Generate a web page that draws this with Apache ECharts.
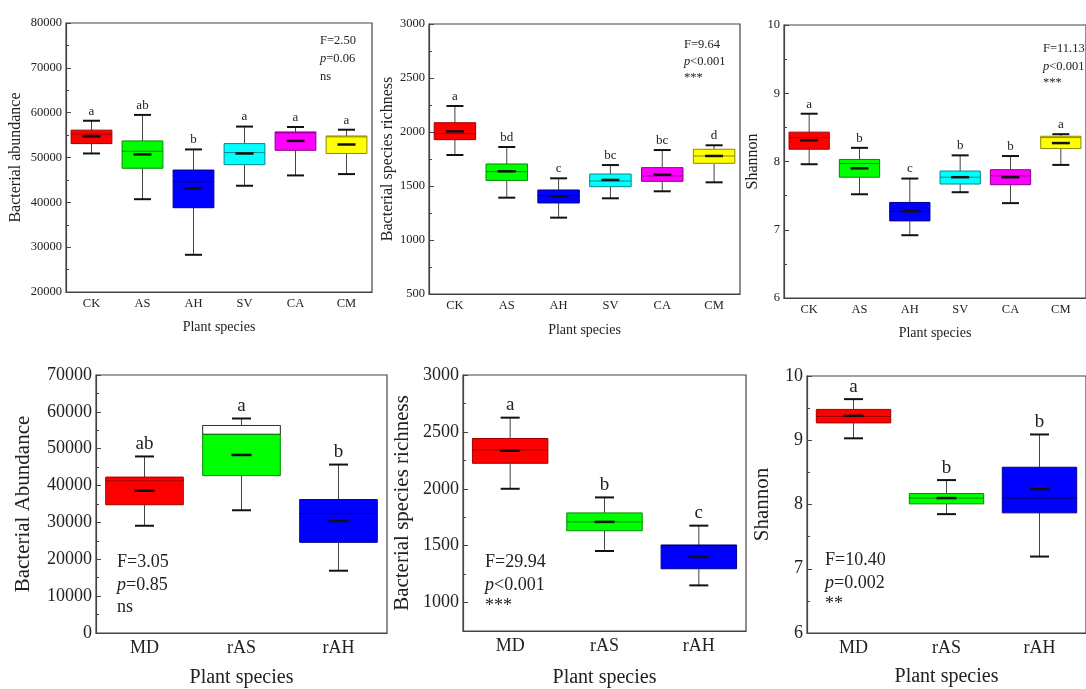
<!DOCTYPE html>
<html>
<head>
<meta charset="utf-8">
<script src="https://cdn.jsdelivr.net/npm/echarts@6/dist/echarts.min.js"></script>
<style>
html,body{margin:0;padding:0;background:#fff;}
#chart{width:1086px;height:689px;}
</style>
</head>
<body>
<div id="chart"></div>
<script>
// ---------- DATA ----------
const categoriesTop = ['CK', 'AS', 'AH', 'SV', 'CA', 'CM'];
const categoriesBottom = ['MD', 'rAS', 'rAH'];

// each row: [min, Q1, median, Q3, max, mean]
const abundanceTop = [
  [50900, 53100, 55200, 56100, 58200, 54700],
  [40700, 47600, 51400, 53700, 59500, 50700],
  [28300, 38800, 44600, 47200, 51800, 43100],
  [43700, 48400, 51100, 53100, 56900, 50900],
  [46000, 51600, 55500, 55700, 56800, 53700],
  [46300, 50900, 54600, 54800, 56200, 52900]
];
const richnessTop = [
  [1787, 1929, 1985, 2086, 2241, 2006],
  [1392, 1552, 1633, 1704, 1861, 1636],
  [1207, 1343, 1410, 1463, 1571, 1404],
  [1386, 1494, 1546, 1611, 1694, 1556],
  [1451, 1543, 1593, 1670, 1833, 1605],
  [1534, 1710, 1778, 1840, 1877, 1778]
];
const shannonTop = [
  [7.96, 8.18, 8.35, 8.43, 8.70, 8.31],
  [7.52, 7.77, 7.97, 8.03, 8.20, 7.90],
  [6.92, 7.13, 7.27, 7.40, 7.75, 7.27],
  [7.55, 7.67, 7.77, 7.86, 8.09, 7.77],
  [7.39, 7.66, 7.79, 7.88, 8.08, 7.77],
  [7.95, 8.19, 8.35, 8.37, 8.40, 8.27]
];
const abundanceBottom = [
  [29100, 34800, 41300, 42300, 47900, 38600],
  [33300, 42700, 53900, 56300, 58200, 48300],
  [16900, 24600, 32400, 36200, 45700, 30400]
];
const richnessBottom = [
  [2000, 2224, 2340, 2442, 2625, 2334],
  [1453, 1631, 1709, 1788, 1924, 1709],
  [1151, 1297, 1500, 1506, 1676, 1401]
];
const shannonBottom = [
  [9.03, 9.27, 9.37, 9.48, 9.64, 9.38],
  [7.85, 8.01, 8.10, 8.17, 8.38, 8.10],
  [7.19, 7.87, 8.10, 8.58, 9.09, 8.24]
];

const lettersAbundanceTop = ['a', 'ab', 'b', 'a', 'a', 'a'];
const lettersRichnessTop = ['a', 'bd', 'c', 'bc', 'bc', 'd'];
const lettersShannonTop = ['a', 'b', 'c', 'b', 'b', 'a'];
const lettersAbundanceBottom = ['ab', 'a', 'b'];
const lettersRichnessBottom = ['a', 'b', 'c'];
const lettersShannonBottom = ['a', 'b', 'b'];

const statsAbundanceTop = ['F=2.50', '=0.06', 'ns'];
const statsRichnessTop = ['F=9.64', '<0.001', '***'];
const statsShannonTop = ['F=11.13', '<0.001', '***'];
const statsAbundanceBottom = ['F=3.05', '=0.85', 'ns'];
const statsRichnessBottom = ['F=29.94', '<0.001', '***'];
const statsShannonBottom = ['F=10.40', '=0.002', '**'];

// ---------- STYLE / LAYOUT ----------
const FONT = "'Liberation Serif', 'Times New Roman', serif";
const fillsTop = ['#ff0000', '#00ff00', '#0000ff', '#00ffff', '#ff00ff', '#ffff00'];
const strokesTop = ['#a00000', '#008a00', '#00008a', '#008a8a', '#8a008a', '#8a8a00'];
const fillsBottom = ['#ff0000', '#00ff00', '#0000ff'];
const strokesBottom = ['#a00000', '#008a00', '#00008a'];

const panels = [
  {data: abundanceTop, cats: categoriesTop, letters: lettersAbundanceTop, stats: statsAbundanceTop,
   fills: fillsTop, strokes: strokesTop, upper: [],
   grid: {left: 66, top: 23, width: 306, height: 269},
   y: {min: 20000, max: 80000, interval: 10000}, yName: 'Bacterial abundance', yGap: 42, xGap: 28,
   big: false, statX: 320, statY: [41, 59, 77]},
  {data: richnessTop, cats: categoriesTop, letters: lettersRichnessTop, stats: statsRichnessTop,
   fills: fillsTop, strokes: strokesTop, upper: [],
   grid: {left: 429, top: 24, width: 311, height: 270},
   y: {min: 500, max: 3000, interval: 500}, yName: 'Bacterial species richness', yGap: 33, xGap: 29,
   big: false, statX: 684, statY: [45, 62, 78]},
  {data: shannonTop, cats: categoriesTop, letters: lettersShannonTop, stats: statsShannonTop,
   fills: fillsTop, strokes: strokesTop, upper: [],
   grid: {left: 784, top: 25, width: 314, height: 273},
   y: {min: 6, max: 10, interval: 1}, yName: 'Shannon', yGap: 23, xGap: 28,
   big: false, statX: 1043, statY: [49, 67, 83]},
  {data: abundanceBottom, cats: categoriesBottom, letters: lettersAbundanceBottom, stats: statsAbundanceBottom,
   fills: fillsBottom, strokes: strokesBottom, upper: [null, '#ffffff', null],
   grid: {left: 96, top: 375, width: 291, height: 258},
   y: {min: 0, max: 70000, interval: 10000}, yName: 'Bacterial Abundance', yGap: 62, xGap: 35,
   big: true, statX: 117, statY: [562, 585, 607]},
  {data: richnessBottom, cats: categoriesBottom, letters: lettersRichnessBottom, stats: statsRichnessBottom,
   fills: fillsBottom, strokes: strokesBottom, upper: [],
   grid: {left: 463, top: 375, width: 283, height: 258},
   y: {min: 750, max: 3000, splitNumber: 5, only500: true}, yName: 'Bacterial species richness', yGap: 50, xGap: 37,
   big: true, statX: 485, statY: [562, 585, 606]},
  {data: shannonBottom, cats: categoriesBottom, letters: lettersShannonBottom, stats: statsShannonBottom,
   fills: fillsBottom, strokes: strokesBottom, upper: [],
   grid: {left: 807, top: 376, width: 287, height: 257},
   y: {min: 6, max: 10, interval: 1}, yName: 'Shannon', yGap: 34, xGap: 34,
   big: true, statX: 825, statY: [560, 583, 604]}
];

function makeRender(p) {
  return function (params, api) {
    const i = params.dataIndex;
    const mn = api.value(1), q1 = api.value(2), med = api.value(3),
          q3 = api.value(4), mx = api.value(5), mean = api.value(6);
    const cx = api.coord([i, q1])[0];
    const Y = v => api.coord([i, v])[1];
    const band = api.size([1, 0])[0];
    const bw = band * 0.8;
    const capW = p.big ? 19 : 17;
    const meanW = p.big ? 20 : 18;
    const fill = p.fills[i], stroke = p.strokes[i];
    const ch = [];
    ch.push({type: 'line', shape: {x1: cx, y1: Y(mx), x2: cx, y2: Y(q3)}, style: {stroke: '#444', lineWidth: 1}});
    ch.push({type: 'line', shape: {x1: cx, y1: Y(q1), x2: cx, y2: Y(mn)}, style: {stroke: '#444', lineWidth: 1}});
    ch.push({type: 'line', shape: {x1: cx - capW / 2, y1: Y(mx), x2: cx + capW / 2, y2: Y(mx)}, style: {stroke: '#111', lineWidth: 2}});
    ch.push({type: 'line', shape: {x1: cx - capW / 2, y1: Y(mn), x2: cx + capW / 2, y2: Y(mn)}, style: {stroke: '#111', lineWidth: 2}});
    ch.push({type: 'rect', shape: {x: cx - bw / 2, y: Y(q3), width: bw, height: Y(q1) - Y(q3)}, style: {fill: fill, stroke: stroke, lineWidth: 1}});
    if (p.upper[i]) {
      ch.push({type: 'rect', shape: {x: cx - bw / 2, y: Y(q3), width: bw, height: Y(med) - Y(q3)}, style: {fill: p.upper[i], stroke: '#333', lineWidth: 1}});
    }
    ch.push({type: 'line', shape: {x1: cx - bw / 2, y1: Y(med), x2: cx + bw / 2, y2: Y(med)}, style: {stroke: stroke === '#00008a' ? '#000050' : stroke, lineWidth: 1}});
    ch.push({type: 'line', shape: {x1: cx - meanW / 2, y1: Y(mean), x2: cx + meanW / 2, y2: Y(mean)}, style: {stroke: '#111', lineWidth: 2.5}});
    ch.push({type: 'text', style: {text: p.letters[i], x: cx, y: Y(mx) - 3, align: 'center', verticalAlign: 'bottom',
      font: (p.big ? '19px ' : '13px ') + FONT, fill: '#222'}});
    return {type: 'group', children: ch};
  };
}

const grids = [], xAxes = [], yAxes = [], series = [], graphics = [];
panels.forEach((p, k) => {
  grids.push(Object.assign({show: true, borderColor: '#444', borderWidth: 1.2, backgroundColor: 'transparent', containLabel: false}, p.grid));
  const lf = p.big ? 18 : 12.5;
  xAxes.push({
    type: 'category', gridIndex: k, data: p.cats, boundaryGap: true,
    name: 'Plant species', nameLocation: 'middle', nameGap: p.xGap,
    nameTextStyle: {fontFamily: FONT, fontSize: p.big ? 20 : 14, color: '#222'},
    axisLine: {lineStyle: {color: '#444', width: 1.2}},
    axisTick: {inside: true, alignWithLabel: true, length: 5, lineStyle: {color: '#444'}},
    axisLabel: {fontFamily: FONT, fontSize: p.big ? 18 : 12.5, color: '#222', margin: p.big ? 6 : 5},
    splitLine: {show: false}
  });
  const ya = {
    type: 'value', gridIndex: k, min: p.y.min, max: p.y.max,
    name: p.yName, nameLocation: 'middle', nameRotate: 90, nameGap: p.yGap,
    nameTextStyle: {fontFamily: FONT, fontSize: p.big ? 21 : 16, color: '#222'},
    axisLine: {show: true, lineStyle: {color: '#444', width: 1.2}},
    axisTick: {show: true, inside: true, length: 5, lineStyle: {color: '#444'}},
    minorTick: {show: true, splitNumber: 2, length: 3, lineStyle: {color: '#444'}},
    axisLabel: {fontFamily: FONT, fontSize: lf, color: '#222', margin: 4,
      formatter: p.y.only500 ? (v => (v % 500 === 0 ? String(v) : '')) : (v => String(v))},
    splitLine: {show: false}
  };
  if (p.y.interval) ya.interval = p.y.interval;
  if (p.y.splitNumber) ya.splitNumber = p.y.splitNumber;
  yAxes.push(ya);
  series.push({
    type: 'custom', xAxisIndex: k, yAxisIndex: k,
    renderItem: makeRender(p),
    encode: {x: 0, y: [1, 2, 3, 4, 5, 6]},
    data: p.data.map((d, i) => [i].concat(d)),
    clip: false
  });
  const sf = (p.big ? 18 : 12.5) + 'px ' + FONT;
  graphics.push({type: 'text', x: p.statX, y: p.statY[0], style: {text: p.stats[0], font: sf, fill: '#222', verticalAlign: 'middle'}});
  graphics.push({type: 'text', x: p.statX, y: p.statY[1], style: {text: '{i|p}' + p.stats[1], font: sf, fill: '#222', verticalAlign: 'middle',
    rich: {i: {fontStyle: 'italic', fontFamily: FONT, fontSize: p.big ? 18 : 12.5, fill: '#222'}}}});
  graphics.push({type: 'text', x: p.statX, y: p.statY[2], style: {text: p.stats[2], font: sf, fill: '#222', verticalAlign: 'middle'}});
});

const chart = echarts.init(document.getElementById('chart'), null, {renderer: 'canvas'});
chart.setOption({
  animation: false,
  backgroundColor: '#ffffff',
  grid: grids, xAxis: xAxes, yAxis: yAxes, series: series, graphic: graphics
});
</script>
</body>
</html>
